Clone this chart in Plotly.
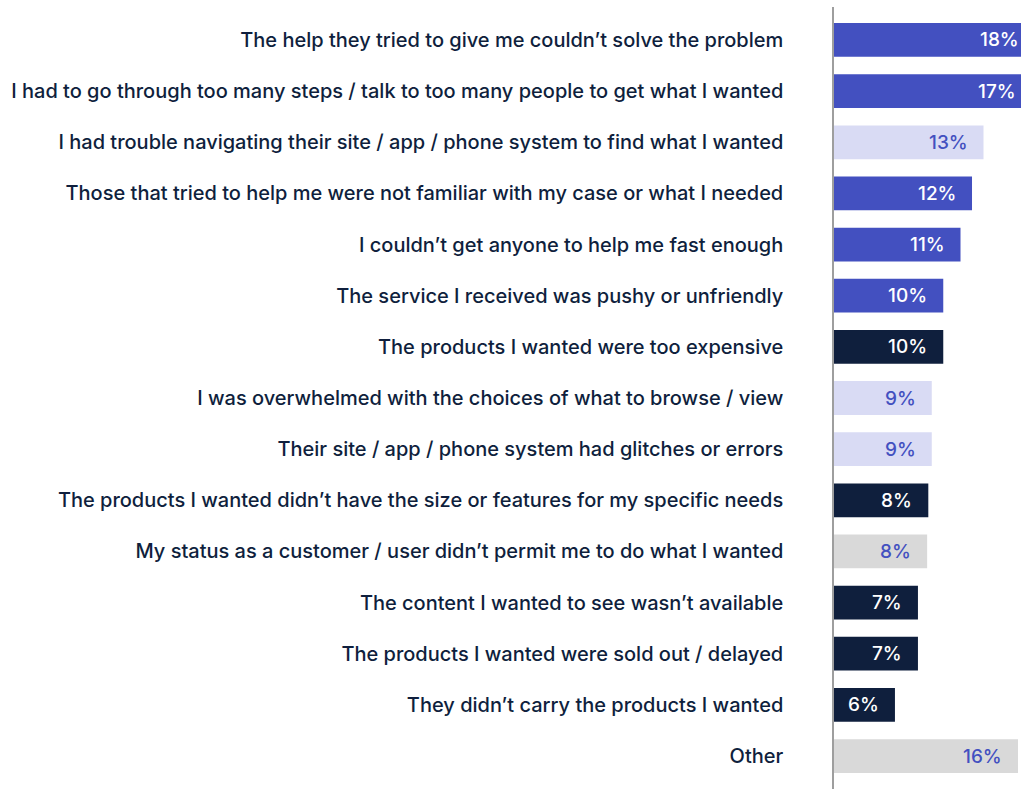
import plotly.graph_objects as go

categories = [
    "The help they tried to give me couldn’t solve the problem",
    "I had to go through too many steps / talk to too many people to get what I wanted",
    "I had trouble navigating their site / app / phone system to find what I wanted",
    "Those that tried to help me were not familiar with my case or what I needed",
    "I couldn’t get anyone to help me fast enough",
    "The service I received was pushy or unfriendly",
    "The products I wanted were too expensive",
    "I was overwhelmed with the choices of what to browse / view",
    "Their site / app / phone system had glitches or errors",
    "The products I wanted didn’t have the size or features for my specific needs",
    "My status as a customer / user didn’t permit me to do what I wanted",
    "The content I wanted to see wasn’t available",
    "The products I wanted were sold out / delayed",
    "They didn’t carry the products I wanted",
    "Other",
]
values = [17.5, 17.2, 13.0, 12.0, 11.0, 9.5, 9.5, 8.5, 8.5, 8.2, 8.1, 7.3, 7.3, 5.3, 16.0]
value_labels = ["18%", "17%", "13%", "12%", "11%", "10%", "10%", "9%", "9%", "8%", "8%", "7%", "7%", "6%", "16%"]
groups = ["blue", "blue", "light", "blue", "blue", "blue", "navy", "light", "light",
          "navy", "gray", "navy", "navy", "navy", "gray"]

BLUE = "#4350C0"
LIGHT = "#D9DBF4"
NAVY = "#0F1F3D"
GRAY = "#D9D9D9"
fill = {"blue": BLUE, "light": LIGHT, "navy": NAVY, "gray": GRAY}
txt = {"blue": "white", "light": BLUE, "navy": "white", "gray": BLUE}

FONT = "Inter"
XMAX = 16.26

fig = go.Figure(go.Bar(
    y=categories,
    x=values,
    orientation="h",
    marker=dict(color=[fill[g] for g in groups], line=dict(width=0)),
    cliponaxis=False,
    hoverinfo="skip",
))

# value labels, right-aligned just inside each bar's end (bars may run past the page edge)
for cat, v, lab, g in zip(categories, values, value_labels, groups):
    fig.add_annotation(
        xref="paper", yref="y",
        x=v / XMAX, y=cat,
        text=lab, showarrow=False,
        xanchor="right", yanchor="middle", xshift=-14,
        font=dict(family=FONT, size=19, color=txt[g], weight=500),
    )

fig.update_layout(
    width=1021, height=789,
    margin=dict(l=834, r=0, t=7, b=0),
    paper_bgcolor="white", plot_bgcolor="white",
    bargap=0.34,
    showlegend=False,
    xaxis=dict(range=[0, XMAX], visible=False, fixedrange=True),
    yaxis=dict(
        type="category",
        range=[14.645, -0.645],
        showline=True, linecolor="#9E9E9E", linewidth=1.5,
        showgrid=False, zeroline=False,
        ticks="", ticklabelstandoff=45,
        tickfont=dict(family=FONT, size=20, color=NAVY, weight=500),
    ),
)

fig.write_html("out.html")
